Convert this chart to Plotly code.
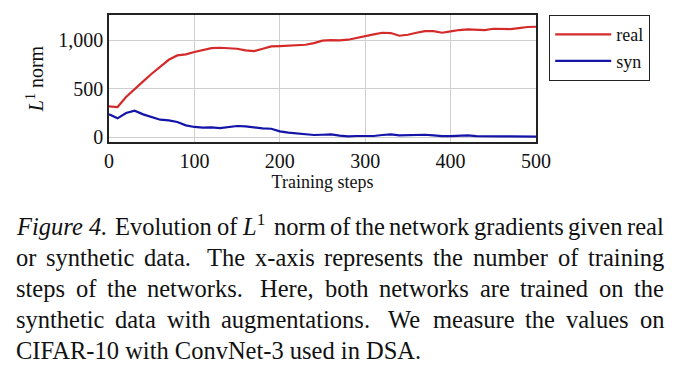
import plotly.graph_objects as go

steps = list(range(0, 510, 10))
real = [320, 313, 416, 500, 577, 656, 732, 800, 845, 856,
        880, 904, 921, 924, 921, 914, 897, 890, 914, 938,
        941, 945, 945, 955, 972, 997, 1003, 1000, 1007, 1027,
        1048, 1062, 1079, 1076, 1048, 1058, 1079, 1096, 1096, 1079,
        1093, 1107, 1113, 1113, 1107, 1120, 1120, 1117, 1127, 1138,
        1141]
syn = [237, 196, 251, 275, 237, 210, 182, 175, 158, 124,
       107, 100, 103, 96, 107, 117, 113, 100, 93, 89,
       62, 48, 38, 27, 24, 27, 31, 17, 10, 14,
       14, 14, 24, 31, 21, 24, 31, 27, 21, 12,
       12, 17, 21, 12, 9, 9, 9, 9, 9, 7,
       7]
x_ticks = [0, 100, 200, 300, 400, 500]
y_ticks = [0, 500, 1000]
y_tick_text = ["0", "500", "1,000"]

caption_lines = [
    "<i>Figure\u00a04.</i> Evolution of <i>L</i><sup>1</sup> norm of the network gradients given real",
    "or synthetic data. The x-axis represents the number of training",
    "steps of the networks. Here, both networks are trained on the",
    "synthetic data with augmentations. We measure the values on",
    "CIFAR-10 with ConvNet-3 used in DSA.",
]

SERIF = "Liberation Serif"

# ---- page geometry (the page body adds an 8px offset) ----
OFF = 8
PL, PR, PT, PB = 109 - OFF, 536 - OFF, 15 - OFF, 142 - OFF   # plot box in figure px
W, H = 680, 366
PW, PH = PR - PL, PB - PT

def px_x(x):
    return (x - PL) / PW

def px_y(y):
    return (PB - y) / PH

# Times-compatible advance widths (per 1000 em) for justification
TW = dict(zip("abcdefghijklmnopqrstuvwxyz",
              [444, 500, 444, 500, 444, 333, 500, 500, 278, 278, 500, 278, 778,
               500, 500, 500, 500, 333, 389, 278, 500, 500, 722, 500, 500, 444]))
TW.update(dict(zip("ABCDEFGHIJKLMNOPQRSTUVWXYZ",
                   [722, 667, 667, 722, 611, 556, 722, 722, 333, 389, 722, 611, 889,
                    722, 722, 556, 722, 667, 556, 611, 722, 722, 944, 722, 722, 611])))
TW.update({c: 500 for c in "0123456789"})
TW.update({".": 250, ",": 250, "-": 333, " ": 250, "\u00a0": 250})

def word_width(html, size):
    sup = 0
    plain = html
    italic = "<i>" in plain
    if "<sup>" in plain:
        s = plain[plain.index("<sup>") + 5:plain.index("</sup>")]
        sup = sum(TW.get(c, 500) for c in s) * 0.7
        plain = plain[:plain.index("<sup>")]
    for tag in ("<i>", "</i>"):
        plain = plain.replace(tag, "")
    em = sum(TW.get(c, 500) for c in plain) + sup
    if italic:
        em = em * 1.04 + 120
    return em / 1000 * size

fig = go.Figure()
fig.add_trace(go.Scatter(x=steps, y=real, mode="lines", name="real",
                         line=dict(color="#d42a2a", width=2.2)))
fig.add_trace(go.Scatter(x=steps, y=syn, mode="lines", name="syn",
                         line=dict(color="#1414a8", width=2.2)))

fig.update_layout(
    width=W, height=H,
    margin=dict(l=PL, r=W - PR, t=PT, b=H - PB, autoexpand=False),
    paper_bgcolor="white", plot_bgcolor="white",
    font=dict(family=SERIF, color="#111", size=18),
    showlegend=True,
    legend=dict(x=px_x(549 - OFF), y=1.0, xanchor="left", yanchor="top",
                bordercolor="#222", borderwidth=1.2,
                font=dict(family=SERIF, size=18),
                tracegroupgap=0, itemwidth=56),
    xaxis=dict(range=[0, 500], tickvals=x_ticks, showgrid=True,
               gridcolor="#cfcfcf", gridwidth=1, zeroline=False,
               showline=True, mirror=True, linecolor="#222", linewidth=1.5,
               ticks="", ticklen=0, automargin=False,
               tickfont=dict(family=SERIF, size=20),
               title=dict(text="Training steps", font=dict(family=SERIF, size=18), standoff=4)),
    yaxis=dict(range=[-48, 1262], tickvals=y_ticks, ticktext=y_tick_text, showgrid=True,
               gridcolor="#cfcfcf", gridwidth=1, zeroline=False,
               showline=True, mirror=True, linecolor="#222", linewidth=1.5,
               ticks="", ticklen=0, automargin=False,
               tickfont=dict(family=SERIF, size=20),
               title=dict(text="<i>L</i><sup>1</sup> norm", font=dict(family=SERIF, size=20), standoff=9)),
)

# ---- caption: justified lines, last line flush left ----
CAP_SIZE = 24.5
LEFT, RIGHT = 15 - OFF, 663 - OFF
baselines = [235, 266, 297, 328, 359]
for i, (line, base) in enumerate(zip(caption_lines, baselines)):
    ybot = px_y(base - OFF + 6)
    if i == len(caption_lines) - 1:
        fig.add_annotation(text=line, xref="paper", yref="paper",
                           x=px_x(LEFT), y=ybot, xanchor="left", yanchor="bottom",
                           showarrow=False, borderpad=0,
                           font=dict(family=SERIF, size=CAP_SIZE, color="#111"))
        continue
    words = line.split(" ")
    widths = [word_width(w, CAP_SIZE) for w in words]
    weights = [1.6 if w.endswith(".") and j > 1 else 1.0 for j, w in enumerate(words[:-1])]
    gap_unit = (RIGHT - LEFT - sum(widths)) / sum(weights)
    x = LEFT
    for j, w in enumerate(words):
        fig.add_annotation(text=w, xref="paper", yref="paper",
                           x=px_x(x), y=ybot, xanchor="left", yanchor="bottom",
                           showarrow=False, borderpad=0,
                           font=dict(family=SERIF, size=CAP_SIZE, color="#111"))
        if j < len(weights):
            x += widths[j] + gap_unit * weights[j]

fig.write_html("out.html")
